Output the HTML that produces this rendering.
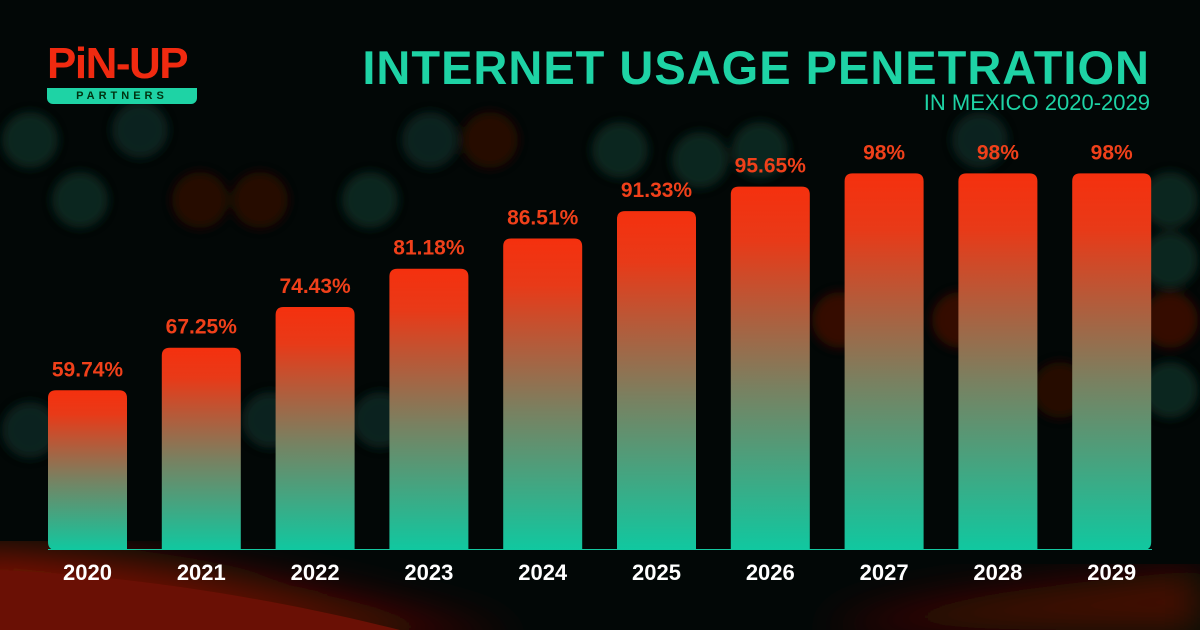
<!DOCTYPE html>
<html><head><meta charset="utf-8"><style>
body{margin:0;width:1200px;height:630px;overflow:hidden;background:#020706;font-family:"Liberation Sans",sans-serif}
#root{position:relative;width:1200px;height:630px;overflow:hidden}
</style></head><body><div id="root">
<svg width="1200" height="630" style="position:absolute;left:0;top:0">
<defs>
<filter id="bl"><feGaussianBlur stdDeviation="5"/></filter>
<filter id="bl2"><feGaussianBlur stdDeviation="20"/></filter>
<linearGradient id="rb" x1="0" y1="0" x2="0" y2="1"><stop offset="0" stop-color="#8a1806"/><stop offset="1" stop-color="#4a0a03"/></linearGradient>
</defs>
<g filter="url(#bl)" opacity="0.9">
<circle cx="30" cy="140" r="28" fill="#0a2a24"/><circle cx="80" cy="200" r="28" fill="#0a2a24"/><circle cx="200" cy="200" r="28" fill="#2a0805"/><circle cx="260" cy="200" r="28" fill="#2a0805"/>
<circle cx="140" cy="130" r="28" fill="#0a2520"/><circle cx="370" cy="200" r="28" fill="#0a2a24"/><circle cx="430" cy="140" r="28" fill="#0a2520"/><circle cx="490" cy="140" r="28" fill="#2a0805"/>
<circle cx="620" cy="150" r="28" fill="#0a2a24"/><circle cx="700" cy="160" r="28" fill="#0a2a24"/><circle cx="760" cy="150" r="28" fill="#0a2a24"/><circle cx="980" cy="140" r="28" fill="#0a2520"/>
<circle cx="1170" cy="200" r="28" fill="#0a2a24"/><circle cx="1170" cy="260" r="28" fill="#0a2a24"/><circle cx="1170" cy="320" r="28" fill="#3a0a05"/><circle cx="1170" cy="390" r="28" fill="#0a2a24"/>
<circle cx="840" cy="320" r="28" fill="#3a0a05"/><circle cx="960" cy="320" r="28" fill="#3a0a05"/><circle cx="1060" cy="390" r="28" fill="#2a0805"/>
<circle cx="380" cy="420" r="28" fill="#0a2520"/><circle cx="270" cy="420" r="28" fill="#0a2520"/><circle cx="30" cy="430" r="28" fill="#0a2520"/>
</g>
<path d="M-40 550 C150 555 320 590 520 640 L-40 640Z" fill="url(#rb)" filter="url(#bl2)"/>
<path d="M0 570 C120 575 260 595 400 630 L0 630Z" fill="#6a1005"/>
<path d="M820 630 C900 600 1050 585 1200 570 L1200 630Z" fill="#4a0c04" filter="url(#bl2)"/>
</svg>
<div style="position:absolute;left:47px;top:42px;width:150px">
<div style="color:#f02a10;font-weight:bold;font-size:44px;line-height:44px;letter-spacing:-1.5px">PiN-UP</div>
<div style="background:#1ed3a5;border-radius:0 0 6px 6px;height:16px;margin-top:2px;font-size:11px;font-weight:bold;letter-spacing:4px;text-align:center;line-height:16px;color:#031">PARTNERS</div>
</div>
<div style="position:absolute;right:50px;top:40px;color:#1ed3a5;font-size:47px;font-weight:bold;letter-spacing:1px;white-space:nowrap">INTERNET USAGE PENETRATION</div>
<div style="position:absolute;right:50px;top:90px;color:#1ed3a5;font-size:22px;white-space:nowrap">IN MEXICO 2020-2029</div>
<svg id="chart" width="1200" height="630" style="position:absolute;left:0;top:0"></svg>
</div>
<script>
const years=["2020","2021","2022","2023","2024","2025","2026","2027","2028","2029"];
const values=[59.74,67.25,74.43,81.18,86.51,91.33,95.65,98,98,98];
const valueLabels=["59.74%","67.25%","74.43%","81.18%","86.51%","91.33%","95.65%","98%","98%","98%"];
const NS="http://www.w3.org/2000/svg";
const svg=document.getElementById('chart');
const baseY=550,left=48,step=113.8,bw=79;
function y(v){return 729-5.67*v;}
function x(i){return left+i*step;}
const defs=document.createElementNS(NS,'defs');
defs.innerHTML='<linearGradient id="bg" x1="0" y1="0" x2="0" y2="1"><stop offset="0" stop-color="#f5300e"/><stop offset="0.15" stop-color="#e83a18"/><stop offset="0.55" stop-color="#7a8060"/><stop offset="1" stop-color="#10c8a0"/></linearGradient>';
svg.appendChild(defs);
const base=document.createElementNS(NS,'rect');


base.setAttribute('x',left);base.setAttribute('y',baseY-1);base.setAttribute('width',1104);base.setAttribute('height',1);base.setAttribute('fill','#14c8a0');
svg.appendChild(base);
values.forEach((v,i)=>{
  const top=y(v),r=8,x0=x(i),x1=x0+bw;
  const bl=i===0?r:0,br=i===values.length-1?r:0;
  const p=document.createElementNS(NS,'path');
  
  
  p.setAttribute('d',`M${x0} ${top+r}Q${x0} ${top} ${x0+r} ${top}L${x1-r} ${top}Q${x1} ${top} ${x1} ${top+r}L${x1} ${baseY-br}Q${x1} ${baseY} ${x1-br} ${baseY}L${x0+bl} ${baseY}Q${x0} ${baseY} ${x0} ${baseY-bl}Z`);
  p.setAttribute('fill','url(#bg)');
  svg.appendChild(p);
  const t=document.createElementNS(NS,'text');
  
  
  t.setAttribute('x',x0+bw/2);t.setAttribute('y',top-14);t.setAttribute('text-anchor','middle');
  t.setAttribute('fill','#f0401a');t.setAttribute('font-size','21');t.setAttribute('font-weight','bold');t.setAttribute('font-family','Liberation Sans, sans-serif');
  t.textContent=valueLabels[i];svg.appendChild(t);
  const yl=document.createElementNS(NS,'text');
  
  
  yl.setAttribute('x',x0+bw/2);yl.setAttribute('y',580);yl.setAttribute('text-anchor','middle');
  yl.setAttribute('fill','#ffffff');yl.setAttribute('font-size','22');yl.setAttribute('font-weight','bold');yl.setAttribute('font-family','Liberation Sans, sans-serif');
  yl.textContent=years[i];svg.appendChild(yl);
});
</script>
</body></html>
